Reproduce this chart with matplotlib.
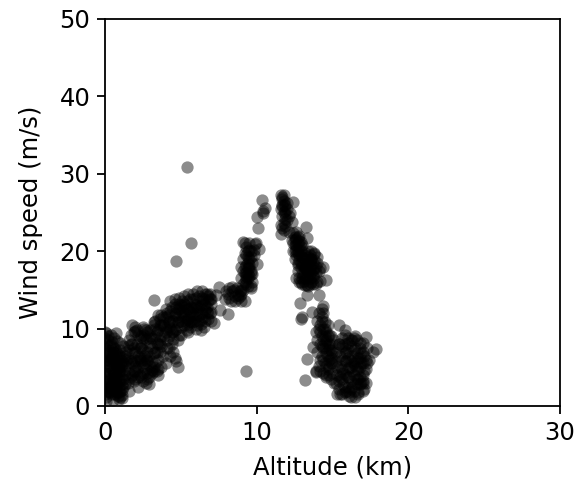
import matplotlib
matplotlib.use("Agg")
import matplotlib.pyplot as plt
import numpy as np

# Surface layer
alt_a = [0.05,0.1,0.1,0.15,0.2,0.2,0.25,0.3,0.3,0.35,0.4,0.4,0.45,0.5,0.5,0.55,0.6,0.6,0.65,0.7,0.7,0.75,0.8,0.8,0.85,0.9,0.9,0.95,1.0,1.0,1.05,1.1,1.1,1.15,1.2,1.2,0.05,0.1,0.2,0.3,0.4,0.5,0.6,0.7,0.8,0.9,1.0,1.1,0.15,0.35,0.55,0.75,0.95,0.25,0.45,0.65,0.85,1.05,0.7,1.6]
spd_a = [9.4,8.0,6.5,5.0,3.5,2.0,7.2,4.3,2.6,5.8,3.0,1.5,6.8,4.5,2.2,3.6,5.5,1.6,7.4,3.0,4.8,2.0,6.0,3.8,1.3,5.1,2.6,4.0,1.2,3.2,6.3,2.1,4.6,1.0,3.5,5.6,4.2,2.8,5.9,7.8,4.9,6.2,3.2,5.7,2.7,3.4,4.4,2.9,3.1,2.4,7.0,9.4,6.6,1.8,8.3,4.1,4.9,5.2,6.9,1.9]
alt_a2 = [0.0,0.0,0.0,0.0,0.0,0.0,0.0,0.1,0.1,0.1,0.2,0.2,0.2,0.3,0.3,0.3,0.4,0.4,0.4,0.5,0.5,0.5,0.6,0.6,0.6,0.7,0.7,0.8,0.8,0.8,0.9,0.9,0.9,1.0,1.0,1.0,1.1,1.1,1.2,1.3,1.3,0.0,0.2,0.4,0.6,0.8,1.0,1.2,0.1,0.5,0.9]
spd_a2 = [1.5,3.0,4.5,6.0,7.5,8.8,2.2,1.2,5.5,7.0,4.5,6.8,8.5,1.8,6.0,3.5,2.2,6.2,8.0,3.2,5.8,7.6,2.5,4.2,6.8,1.5,3.8,1.8,4.8,7.0,1.8,4.5,6.3,2.0,5.5,7.2,1.4,5.8,2.4,4.0,6.5,9.6,9.0,9.2,8.8,8.4,8.2,7.8,0.6,0.8,0.9]

# Lower troposphere
alt_b = [1.3,1.4,1.5,1.6,1.7,1.8,1.9,2.0,2.1,2.2,2.3,2.4,2.5,2.6,2.7,2.8,2.9,3.0,3.1,3.2,3.3,3.4,3.5,3.6,3.7,3.8,1.4,1.6,1.8,2.0,2.2,2.4,2.6,2.8,3.0,3.2,3.4,3.6,3.8,1.5,1.7,1.9,2.1,2.3,2.5,2.7,2.9,3.1,3.3,3.5,3.7,1.3,1.8,2.3,2.8,3.3,3.8,2.0,2.5,3.0,3.5,2.7,3.2,4.0,4.2]
spd_b = [4.5,7.0,5.5,8.5,3.8,6.8,9.5,5.2,8.0,6.5,4.0,9.0,7.2,5.5,8.6,4.2,6.4,9.8,7.5,5.0,11.0,8.2,6.0,10.5,7.8,11.5,6.0,4.2,8.0,9.7,5.0,7.5,9.2,6.0,8.2,4.5,9.5,8.5,6.5,3.0,5.8,7.5,4.5,8.8,4.2,6.2,3.8,5.8,7.0,4.8,9.0,2.8,4.0,6.0,7.0,10.0,10.5,3.5,5.2,4.4,11.8,3.0,13.7,5.5,7.5]
alt_b2 = [1.4,1.5,1.6,1.7,1.8,1.9,2.0,2.1,2.2,2.3,2.4,2.5,2.6,2.7,2.8,2.9,3.0,3.1,3.2,3.3,3.4,3.5,3.6,3.7,1.5,1.7,1.9,2.1,2.3,2.5,2.7,2.9,3.1,3.3,3.5,3.7,2.0,2.4,2.8,3.2,3.6,1.6,1.9,2.2,2.5,2.8,3.1,3.4,3.7,2.0,2.6,3.2,1.8,2.4,3.0,3.6,2.2,2.9,3.5]
spd_b2 = [5.2,6.2,7.2,8.0,5.5,4.5,7.0,6.0,9.2,7.5,5.8,8.8,6.5,4.8,9.5,7.8,5.2,8.8,6.8,9.0,7.0,9.8,8.0,10.5,7.8,9.2,6.0,9.8,6.2,10.2,9.8,8.8,4.6,5.5,8.0,11.8,4.5,3.8,5.8,10.5,11.2,3.5,3.2,3.8,3.2,3.5,4.2,4.5,5.0,10.2,10.0,10.8,10.5,7.8,9.0,7.0,2.5,2.8,4.0]

# Mid troposphere
alt_c = [3.9,4.0,4.1,4.2,4.3,4.4,4.5,4.6,4.7,4.8,4.9,5.0,5.1,5.2,5.3,5.4,5.5,5.6,5.7,5.8,5.9,6.0,6.1,6.2,6.3,6.4,6.5,6.6,6.7,6.8,6.9,7.0,4.0,4.2,4.4,4.6,4.8,5.0,5.2,5.4,5.6,5.8,6.0,6.2,6.4,6.6,6.8,7.0,4.1,4.5,4.9,5.3,5.7,6.1,6.5,6.9,4.3,4.7,4.8,4.6,7.2,7.3,7.5,7.6,8.1]
spd_c = [9.0,11.5,8.5,10.2,12.3,9.5,11.0,13.2,10.0,12.5,9.2,11.8,13.5,10.5,12.0,9.8,11.3,13.8,10.8,12.6,11.0,13.0,12.0,14.2,10.6,13.5,11.5,14.5,12.8,11.2,13.8,12.2,10.0,11.8,8.0,12.0,10.8,13.0,11.6,12.5,10.2,11.8,14.0,12.8,11.3,12.4,14.2,11.0,7.5,7.0,12.5,13.0,11.8,10.5,13.2,14.5,6.5,5.8,5.0,6.2,10.7,14.3,15.4,12.4,11.9]
alt_c2 = [3.9,4.0,4.1,4.2,4.3,4.4,4.5,4.6,4.7,4.8,4.9,5.0,5.1,5.2,5.3,5.4,5.5,5.6,5.7,5.8,5.9,6.0,6.1,6.2,6.3,6.4,6.5,6.6,6.7,6.8,6.9,4.2,4.6,5.0,5.4,5.8,6.2,6.6,7.0,4.4,4.8,5.2,5.6,6.0,6.4,6.8,4.0,4.3,4.6,4.9,5.2,5.5,5.8,6.1,6.4,6.7,7.0,4.5,5.0,5.5,6.0,6.5,4.2,4.8,5.4,6.3]
spd_c2 = [10.5,9.5,12.0,11.0,10.0,12.8,9.5,11.8,12.8,10.8,13.2,10.2,12.2,13.2,11.0,13.5,12.5,11.0,12.8,10.8,13.2,11.5,12.8,11.8,13.0,12.0,13.8,11.0,12.2,13.5,12.0,9.0,9.8,11.0,11.2,13.8,11.0,13.0,13.2,11.0,11.5,12.8,12.2,12.4,14.0,12.0,12.5,13.5,13.8,14.0,14.2,14.5,14.5,14.8,14.8,14.5,13.8,8.6,9.2,9.5,10.0,10.2,10.8,8.5,10.5,9.8]

alt_d = [7.9,8.1,8.2,8.3,8.4,8.5,8.6,8.7,8.8,8.9,9.0,9.1,8.2,8.4,8.6,8.8,9.0,9.2,8.0]
spd_d = [13.8,14.5,15.2,13.6,14.8,15.0,14.2,15.3,14.0,14.8,13.6,15.0,14.0,15.4,13.5,14.4,14.5,13.6,14.8]

# Upper troposphere
alt_e = [9.0,9.1,9.1,9.2,9.2,9.3,9.3,9.3,9.4,9.4,9.4,9.5,9.5,9.5,9.6,9.6,9.7,9.7,9.8,9.2,9.4,9.6,9.0,9.3,9.5,10.0,9.9,9.1,9.2,9.3,9.4,9.5,9.6,9.2,9.3,9.4,9.5,9.6,9.3,9.4,8.9,9.0,9.7,9.8,9.1,9.6]
spd_e = [16.5,17.5,19.0,16.0,18.0,17.2,19.5,20.5,15.5,18.5,20.0,16.8,19.0,21.0,17.5,20.0,18.5,16.0,19.5,21.0,17.0,15.2,18.0,16.4,18.2,18.3,20.9,15.8,17.2,18.2,17.8,17.8,19.2,19.8,15.8,19.2,20.2,17.0,16.8,16.5,14.2,15.0,17.0,20.2,21.2,15.5]

alt_f = [10.35,10.55,10.4,10.45,10.0,10.1,9.95,10.15]
spd_f = [26.6,25.6,24.9,25.2,24.4,23.0,21.0,20.3]

# Jet core
alt_g = [11.6,11.7,11.8,11.9,11.7,11.8,12.0,12.1,11.6,11.7,11.9,12.0,12.2,12.4,11.6,11.8,12.3,11.6,11.7,12.1,11.9,11.7,11.8,11.9,12.0,11.7,11.8,11.9,11.8]
spd_g = [27.3,27.0,26.5,26.0,25.8,25.0,25.5,24.6,23.4,23.0,24.2,26.2,24.9,26.4,22.2,23.6,23.8,25.5,26.8,22.5,24.8,26.0,27.2,25.2,24.0,24.5,26.0,23.2,22.8]

alt_h = [12.3,12.4,12.5,12.5,12.6,12.6,12.7,12.7,12.8,12.8,12.9,12.9,13.0,12.4,12.6,12.8,13.0,12.5,12.7,13.25,13.3,12.4,12.5,12.6,12.7,12.8,12.9,12.6,12.7,12.5]
spd_h = [21.5,22.3,20.8,21.8,20.2,21.6,19.8,21.0,20.5,19.5,21.2,20.0,20.8,20.0,22.5,22.0,19.2,19.0,18.5,23.1,21.7,21.0,21.5,20.8,20.2,21.3,20.5,19.5,21.8,20.0]

alt_i = [12.7,12.8,12.9,13.0,13.0,13.1,13.2,13.2,13.3,13.3,13.4,13.4,13.5,13.5,13.6,13.6,13.7,13.7,13.8,13.8,13.9,14.0,14.1,12.8,13.0,13.2,13.4,13.6,13.8,14.0,12.9,13.5,14.2,14.4,14.6,12.9,13.0,13.1,13.2,13.3,13.4,13.5,13.6,13.7,13.8,13.9,13.1,13.3,13.5,13.7,13.2,13.4,13.6,12.6,12.8,13.0,13.2,13.4,13.6,13.8,14.0,14.2,12.7,13.1,13.5,13.9]
spd_i = [17.5,16.5,18.5,17.0,15.8,18.0,16.5,19.0,17.5,15.6,18.5,16.8,17.2,19.5,16.0,18.2,17.6,15.8,18.8,16.5,17.2,16.0,17.5,18.8,19.2,18.0,15.5,19.0,19.6,18.5,16.0,17.8,16.2,18.0,16.3,17.8,18.2,17.0,17.8,18.2,17.5,16.5,17.2,18.5,17.8,18.0,16.2,16.8,18.8,16.8,15.6,19.2,19.0,16.5,16.0,16.5,19.8,20.0,20.0,19.8,19.2,17.8,18.2,19.5,15.8,15.8]

# Tropopause / lower stratosphere
alt_j = [14.0,14.1,14.2,14.2,14.3,14.3,14.4,14.4,14.5,14.5,14.6,14.6,14.7,14.7,14.8,14.8,14.9,15.0,15.1,14.2,14.4,14.6,14.8,15.0,14.3,14.5,14.1,13.9,14.0,14.6,14.9,15.2,12.85,13.3,12.95,13.0,13.65,14.1,14.4,13.3,13.2,13.7,13.9,14.2,14.3,14.4,14.5,14.6,14.7,14.8,14.9,15.0,14.3,14.5,14.7,14.9,14.4,14.6,14.8,14.2,13.9,14.1,14.3,14.5,14.7,14.9,15.1,14.0,14.4,14.8]
spd_j = [11.0,12.0,9.5,8.0,11.5,6.5,10.0,7.5,9.0,5.5,8.5,6.8,7.8,4.8,9.2,6.0,7.2,8.0,6.5,4.5,4.2,4.0,5.0,4.3,12.5,10.8,5.2,4.4,7.0,3.8,3.5,5.8,13.3,14.3,11.2,11.5,12.1,14.3,12.9,6.1,3.4,7.6,4.5,10.5,9.0,8.5,7.5,9.5,6.5,8.0,5.5,7.0,7.8,8.2,9.0,6.2,6.0,5.2,7.2,6.0,9.5,10.0,11.0,10.0,10.5,9.0,8.5,8.5,12.0,4.0]

alt_k = [15.2,15.3,15.4,15.5,15.5,15.6,15.6,15.7,15.7,15.8,15.8,15.9,15.9,16.0,16.0,16.1,16.1,16.2,16.2,16.3,16.3,16.4,16.4,16.5,16.5,16.6,16.6,16.7,16.7,16.8,16.8,16.9,16.9,17.0,17.0,17.1,17.2,17.3,15.4,15.6,15.8,16.0,16.2,16.4,16.6,16.8,17.0,15.5,16.0,16.5,17.0,15.4,15.85,17.2,17.9,17.7,15.3,16.2,17.1]
spd_k = [3.0,5.0,2.2,6.5,3.8,1.5,4.8,7.5,2.8,5.8,1.8,7.0,4.0,2.5,6.2,5.0,1.3,7.8,3.2,4.5,8.5,6.0,2.0,5.2,7.5,3.5,6.8,4.5,1.8,6.2,8.2,3.0,5.5,7.0,4.0,2.2,6.0,7.5,8.0,8.8,9.2,3.8,5.8,4.0,2.8,5.0,3.2,4.4,7.2,9.0,2.0,10.4,9.8,8.9,7.4,7.0,1.5,1.2,4.5]
alt_k2 = [15.3,15.4,15.5,15.6,15.7,15.8,15.9,16.0,16.1,16.2,16.3,16.4,16.5,16.6,16.7,16.8,16.9,17.0,17.1,17.2,15.6,15.8,16.0,16.2,16.4,16.6,16.8,17.0,15.9,16.3,16.7,15.0,15.2,15.4,15.6,15.8,16.0,16.2,16.4,16.6,16.8,17.0,17.2,17.4,15.5,16.1,16.7,17.3,15.1,16.5]
spd_k2 = [4.0,3.2,5.2,3.5,4.2,2.5,5.8,4.8,3.8,5.0,6.5,7.2,3.0,4.8,6.2,3.8,6.8,5.5,6.5,4.8,6.0,6.8,8.2,2.2,5.5,5.8,2.8,3.0,2.0,2.5,3.5,5.5,7.0,8.0,7.8,8.0,8.8,8.5,8.8,8.5,7.5,8.2,3.0,6.0,1.5,1.8,1.5,5.5,3.0,1.2]

# Isolated readings
alt_o = [5.44,5.66,4.71,9.29]
spd_o = [30.9,21.0,18.7,4.5]

altitude = np.concatenate([alt_a, alt_a2, alt_b, alt_b2, alt_c, alt_c2, alt_d, alt_e, alt_f,
                           alt_g, alt_h, alt_i, alt_j, alt_k, alt_k2, alt_o])
speed = np.concatenate([spd_a, spd_a2, spd_b, spd_b2, spd_c, spd_c2, spd_d, spd_e, spd_f,
                        spd_g, spd_h, spd_i, spd_j, spd_k, spd_k2, spd_o])

fig = plt.figure(figsize=(5.8, 4.93), dpi=100)
ax = fig.add_axes([0.181, 0.1765, 0.7845, 0.785])
ax.scatter(altitude, speed, s=78, color="black", alpha=0.45, linewidths=0)
ax.set_xlim(0, 30)
ax.set_ylim(0, 50)
ax.set_xticks([0, 10, 20, 30])
ax.set_yticks([0, 10, 20, 30, 40, 50])
ax.tick_params(labelsize=17.5, width=1.3, length=5.6, pad=5)
for sp in ax.spines.values():
    sp.set_linewidth(1.3)
ax.set_xlabel("Altitude (km)", fontsize=17.5, labelpad=8)
ax.set_ylabel("Wind speed (m/s)", fontsize=17.5, labelpad=12)
fig.savefig("out.png", dpi=100)
